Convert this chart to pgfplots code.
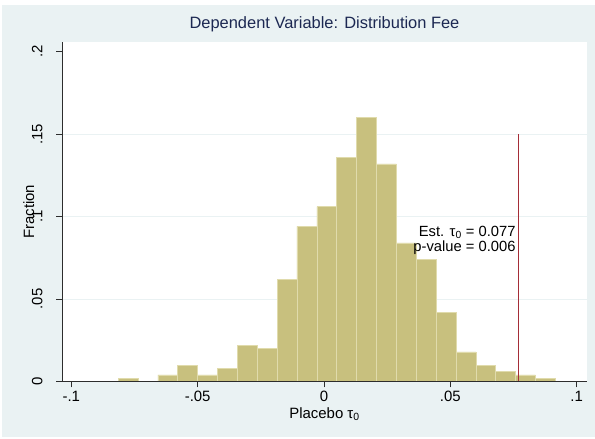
\documentclass[border=0pt]{standalone}
\usepackage{pgfplots}
\pgfplotsset{compat=1.18}
\usepackage{fontspec}
\setmainfont{Liberation Sans}
\definecolor{bg}{RGB}{234,242,243}
\definecolor{barfill}{RGB}{200,192,126}
\definecolor{baredge}{RGB}{224,219,172}
\definecolor{redline}{RGB}{165,45,55}
\definecolor{titlec}{RGB}{28,40,82}
\definecolor{axc}{RGB}{45,45,45}
\begin{document}
\begin{tikzpicture}[x=1bp,y=1bp]
\fill[white] (0,0) rectangle (595,439);
\fill[bg] (2,2) rectangle (595,434);
\begin{axis}[
  at={(62bp,57.5bp)}, anchor=south west,
  scale only axis, width=525bp, height=339.5bp,
  xmin=-0.10368, xmax=0.10408, ymin=0, ymax=0.2059,
  axis x line*=bottom, axis y line*=left,
  axis line style={axc, line width=0.8bp, -},
  axis background/.style={fill=white},
  axis on top,
  xtick={-0.1,-0.05,0,0.05,0.1},
  xticklabels={-.1,-.05,0,.05,.1},
  ytick={0,0.05,0.1,0.15,0.2},
  yticklabels={0,.05,.1,.15,.2},
  tick align=outside, major tick length=6bp,
  tick style={axc, line width=0.8bp},
  tick label style={font=\fontsize{15}{18}\selectfont, text=black},
  yticklabel style={rotate=90, anchor=base, yshift=13.7bp},
  xlabel={Placebo τ\textsubscript{0}},
  xlabel style={at={(axis description cs:0.5,0)}, anchor=base, yshift=-36.8bp, font=\fontsize{15}{18}\selectfont},
  ylabel={Fraction},
  ylabel style={at={(axis description cs:0,0.5)}, anchor=base, yshift=28bp, font=\fontsize{15}{18}\selectfont},
  title={Dependent Variable: Distribution Fee},
  title style={at={(axis description cs:0.5,1)}, anchor=base, yshift=7.7bp, font=\fontsize{16.5}{19}\selectfont, text=titlec},
  clip=false,
]
\draw[bg, line width=0.8bp] (axis cs:-0.10368,0.05) -- (axis cs:0.10408,0.05);
\draw[bg, line width=0.8bp] (axis cs:-0.10368,0.10) -- (axis cs:0.10408,0.10);
\draw[bg, line width=0.8bp] (axis cs:-0.10368,0.15) -- (axis cs:0.10408,0.15);
\addplot[ybar interval, fill=barfill, draw=baredge, line width=0.6bp] coordinates {
(-0.08150,0.002) (-0.07363,0.000) (-0.06577,0.004) (-0.05790,0.010)
(-0.05004,0.004) (-0.04217,0.008) (-0.03431,0.022) (-0.02644,0.020)
(-0.01858,0.062) (-0.01071,0.094) (-0.00285,0.106) (0.00502,0.136)
(0.01288,0.160) (0.02075,0.132) (0.02861,0.084) (0.03648,0.074)
(0.04434,0.042) (0.05221,0.018) (0.06007,0.010) (0.06794,0.006)
(0.07580,0.004) (0.08367,0.002) (0.09153,0.000)
};
\addplot[redline, line width=1bp] coordinates {(0.077,0) (0.077,0.15)};
\node[anchor=base east, inner sep=0pt, font=\fontsize{14.8}{16}\selectfont] at (axis cs:0.077,0.0878) [xshift=-2.9bp] {Est. τ\textsubscript{0} = 0.077};
\node[anchor=base east, inner sep=0pt, font=\fontsize{14.8}{16}\selectfont] at (axis cs:0.077,0.0787) [xshift=-2.9bp] {p-value = 0.006};
\end{axis}
\end{tikzpicture}
\end{document}
